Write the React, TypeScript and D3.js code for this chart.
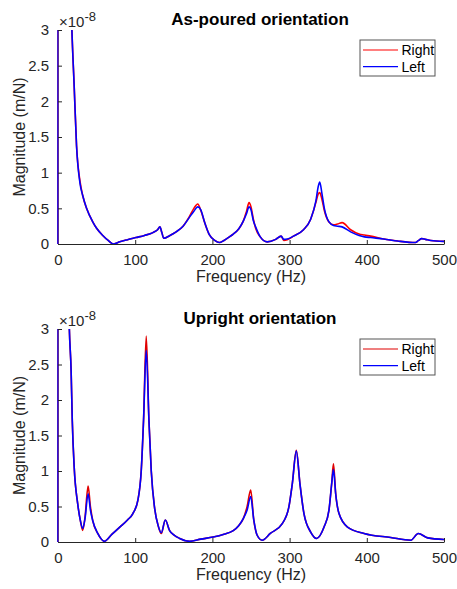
import React, { useEffect, useRef } from 'react';
import * as d3 from 'd3';

// Frequency (Hz) and magnitude (x1e-8 m/N)
const freqTop = [0, 2, 10, 18, 21, 24, 28.5, 32, 37, 45, 50, 58, 65, 72, 80, 90, 101, 112, 123, 129, 132, 134.5, 137, 145, 153, 162, 170, 176, 181, 185, 190, 196, 203, 209, 215, 222, 227, 234, 240, 244, 247.5, 250, 253, 256, 262, 271, 282, 289, 292.5, 297, 305, 318, 327, 334, 337, 339, 342, 345, 351, 357, 362, 368, 379, 390, 397, 405, 422, 440, 463, 467, 471, 476, 483, 500];
const rightTop = [0, 30, 7, 3.0, 2.2, 1.38, 0.88, 0.68, 0.5, 0.31, 0.22, 0.12, 0.05, 0.0, 0.03, 0.06, 0.09, 0.12, 0.16, 0.2, 0.24, 0.16, 0.08, 0.12, 0.17, 0.25, 0.38, 0.5, 0.56, 0.47, 0.3, 0.13, 0.05, 0.02, 0.05, 0.1, 0.14, 0.21, 0.32, 0.45, 0.58, 0.52, 0.35, 0.22, 0.1, 0.03, 0.065, 0.11, 0.05, 0.06, 0.11, 0.2, 0.34, 0.58, 0.7, 0.72, 0.62, 0.47, 0.31, 0.27, 0.28, 0.3, 0.2, 0.14, 0.125, 0.11, 0.07, 0.042, 0.02, 0.05, 0.075, 0.065, 0.05, 0.037];
const leftTop = [0, 30, 7, 3.0, 2.2, 1.38, 0.85, 0.68, 0.5, 0.31, 0.22, 0.12, 0.05, 0.0, 0.03, 0.06, 0.09, 0.12, 0.16, 0.2, 0.24, 0.16, 0.08, 0.12, 0.17, 0.25, 0.37, 0.46, 0.52, 0.48, 0.3, 0.13, 0.05, 0.02, 0.05, 0.1, 0.14, 0.21, 0.32, 0.42, 0.52, 0.48, 0.33, 0.24, 0.1, 0.03, 0.065, 0.11, 0.065, 0.07, 0.11, 0.2, 0.34, 0.6, 0.8, 0.87, 0.7, 0.5, 0.31, 0.26, 0.25, 0.24, 0.17, 0.12, 0.1, 0.09, 0.07, 0.042, 0.02, 0.05, 0.075, 0.065, 0.05, 0.037];

const freqBottom = [0, 2, 10, 14.7, 17, 18.5, 21, 25.5, 29, 32, 35, 39, 42, 45, 51.5, 60, 70, 80, 90, 97, 103.5, 107.8, 110.8, 114.3, 117.8, 120.8, 125, 130, 133.8, 139, 144.6, 150, 157.6, 170.5, 185, 201, 215, 227, 234, 240, 245, 249.6, 253.6, 258, 264.5, 275, 290.5, 299, 303.5, 308.7, 313.4, 318.6, 327.3, 335, 344.6, 351, 354.5, 356.8, 359.7, 364, 375, 396.5, 431, 457, 466.6, 479, 500];
const rightBottom = [0, 30, 6, 3.0, 2.41, 1.71, 1.05, 0.54, 0.3, 0.164, 0.35, 0.787, 0.5, 0.3, 0.12, 0.01, 0.11, 0.21, 0.31, 0.4, 0.59, 1.0, 1.71, 2.9, 1.71, 1.0, 0.49, 0.22, 0.12, 0.31, 0.16, 0.1, 0.05, 0.01, 0.04, 0.07, 0.11, 0.16, 0.23, 0.33, 0.5, 0.73, 0.31, 0.095, 0.025, 0.12, 0.26, 0.49, 0.82, 1.29, 0.82, 0.4, 0.14, 0.05, 0.21, 0.45, 0.82, 1.1, 0.68, 0.4, 0.21, 0.12, 0.063, 0.025, 0.12, 0.058, 0.035];
const leftBottom = [0, 30, 6, 3.0, 2.41, 1.71, 1.05, 0.54, 0.3, 0.19, 0.33, 0.68, 0.45, 0.3, 0.12, 0.01, 0.11, 0.21, 0.31, 0.4, 0.59, 1.0, 1.71, 2.7, 1.71, 1.0, 0.49, 0.22, 0.13, 0.31, 0.16, 0.1, 0.05, 0.01, 0.04, 0.07, 0.11, 0.16, 0.23, 0.33, 0.45, 0.64, 0.31, 0.095, 0.025, 0.12, 0.26, 0.49, 0.82, 1.28, 0.82, 0.4, 0.14, 0.05, 0.21, 0.45, 0.82, 1.02, 0.68, 0.4, 0.21, 0.12, 0.063, 0.025, 0.12, 0.058, 0.035];

const xTicks = [0, 100, 200, 300, 400, 500];
const yTicks = [0, 0.5, 1, 1.5, 2, 2.5, 3];
const seriesNames = ['Right', 'Left'];
const titles = ['As-poured orientation', 'Upright orientation'];

const FONT = '"Liberation Sans", Arial, Helvetica, sans-serif';
const INK = '#262626';

export default function App() {
    const ref = useRef<SVGSVGElement | null>(null);

    useEffect(() => {
        drawChart();
    }, []);

    const drawChart = () => {
        const svg = d3.select(ref.current);
        svg.selectAll('*').remove();

        const left = 58, right = 444;
        const panels = [
            { top: 30, bottom: 244, freq: freqTop, r: rightTop, l: leftTop, title: titles[0], rightColor: '#ff0000' },
            { top: 329, bottom: 542, freq: freqBottom, r: rightBottom, l: leftBottom, title: titles[1], rightColor: '#e00000' },
        ];

        panels.forEach((p, i) => {
            const x = d3.scaleLinear().domain([0, 500]).range([left, right]);
            const y = d3.scaleLinear().domain([0, 3]).range([p.bottom, p.top]);
            const g = svg.append('g');

            const clipId = `clip${i}`;
            g.append('clipPath').attr('id', clipId)
                .append('rect')
                .attr('x', left - 1).attr('y', p.top)
                .attr('width', right - left + 1).attr('height', p.bottom - p.top);

            const line = d3.line<number>()
                .x((d, k) => x(p.freq[k]))
                .y(d => y(d))
                .curve(d3.curveMonotoneX);

            const plot = g.append('g').attr('clip-path', `url(#${clipId})`);
            plot.append('path').attr('d', line(p.r))
                .attr('fill', 'none').attr('stroke', p.rightColor).attr('stroke-width', 1.6);
            plot.append('path').attr('d', line(p.l))
                .attr('fill', 'none').attr('stroke', '#0000ff').attr('stroke-width', 1.6);

            // X axis (ticks point inward)
            const xAxis = d3.axisBottom(x).tickValues(xTicks).tickSize(-4).tickSizeOuter(0).tickPadding(10)
                .tickFormat(d3.format('d'));
            const gx = g.append('g').attr('transform', `translate(0,${p.bottom})`).call(xAxis);
            // Y axis
            const yAxis = d3.axisLeft(y).tickValues(yTicks).tickSize(-4).tickSizeOuter(0).tickPadding(9)
                .tickFormat(d => String(d));
            const gy = g.append('g').attr('transform', `translate(${left},0)`).call(yAxis);

            [gx, gy].forEach(a => {
                a.select('.domain').attr('stroke', INK).attr('stroke-width', 1);
                a.selectAll('.tick line').attr('stroke', INK);
                a.selectAll('.tick text').attr('fill', INK).style('font-family', FONT).style('font-size', '15px');
            });
            gy.select('.domain').attr('stroke', '#5a2a9a');

            // exponent label
            const ex = g.append('text').attr('x', 59).attr('y', p.top - 3)
                .attr('fill', INK).style('font-family', FONT).style('font-size', '15px');
            ex.append('tspan').text('×10');
            ex.append('tspan').attr('dy', -6).style('font-size', '13px').text('-8');

            // title
            g.append('text').attr('x', 260).attr('y', p.top - 5)
                .attr('text-anchor', 'middle').attr('fill', '#000')
                .style('font-family', FONT).style('font-size', '17px').style('font-weight', 'bold')
                .text(p.title);

            // axis labels
            g.append('text').attr('x', (left + right) / 2).attr('y', p.bottom + 38)
                .attr('text-anchor', 'middle').attr('fill', INK)
                .style('font-family', FONT).style('font-size', '16px')
                .text('Frequency (Hz)');
            g.append('text')
                .attr('transform', `translate(25,${(p.top + p.bottom) / 2}) rotate(-90)`)
                .attr('text-anchor', 'middle').attr('fill', INK)
                .style('font-family', FONT).style('font-size', '16px')
                .text('Magnitude (m/N)');

            // legend
            const lx = 360, ly = p.top + 10;
            const lg = g.append('g').attr('transform', `translate(${lx},${ly})`);
            lg.append('rect').attr('x', 0).attr('y', 0).attr('width', 75).attr('height', 36)
                .attr('fill', '#fff').attr('stroke', '#555').attr('stroke-width', 1);
            seriesNames.forEach((name, k) => {
                const yy = 10 + k * 16.7;
                lg.append('line').attr('x1', 3).attr('x2', 38).attr('y1', yy).attr('y2', yy)
                    .attr('stroke', k === 0 ? p.rightColor : '#0000ff').attr('stroke-width', 1.2);
                lg.append('text').attr('x', 41.5).attr('y', yy + 5)
                    .attr('fill', '#000').style('font-family', FONT).style('font-size', '14px')
                    .text(name);
            });
        });
    };

    return (
        <svg ref={ref} width={457} height={589}
            style={{ position: 'absolute', left: 0, top: 0, background: '#fff' }} />
    );
}
